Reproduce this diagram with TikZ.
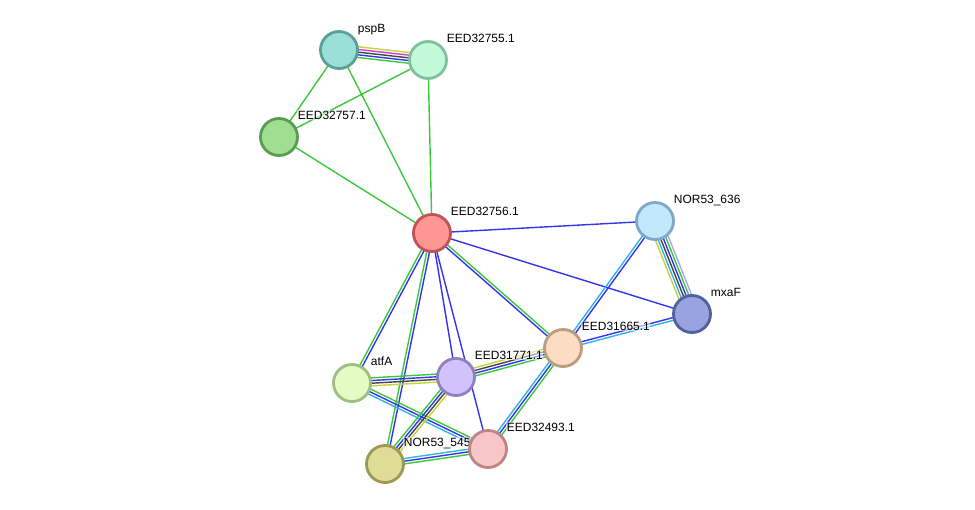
\documentclass[tikz,border=0pt]{standalone}
\usepackage{fontspec}
\setmainfont{Liberation Sans}
\usetikzlibrary{calc,backgrounds}
\definecolor{cNeigh}{HTML}{3CC83C}
\definecolor{cCooc}{HTML}{3535F0}
\definecolor{cCoex}{HTML}{454545}
\definecolor{cExp}{HTML}{D040D0}
\definecolor{cDb}{HTML}{33B4E4}
\definecolor{cText}{HTML}{C4D23C}
\definecolor{cHom}{HTML}{A8A8F8}
\tikzset{
    prot/.style={circle,draw,line width=2pt,minimum size=0.925cm,inner sep=0pt},
    lbl/.style={anchor=base west,inner sep=0.5pt,fill=white,fill opacity=0.55,text opacity=1,
        font=\fontsize{8.5}{10}\selectfont},
    link/.style={line width=1pt},
}
% protein: name, x, y, fill, border, text
\newcommand\Prot[6]{%
    \definecolor{#1-fill}{HTML}{#4}
    \definecolor{#1-line}{HTML}{#5}
    \node[prot,fill=#1-fill,draw=#1-line] (#1) at (#2,#3) {};
    \node[lbl] (#1-l) at ($(#1)+(18,-18)$) {#6};
}
% evidence lines between two proteins, one per colour
\newcommand\Link[3]{%
    \foreach \c [count=\k] in {#3} {\xdef\nlines{\k}}
    \foreach \c [count=\k] in {#3} {
        \pgfmathsetmacro\off{(\k-(\nlines+1)/2)*1.9}
        \draw[link,color=\c] ($(#1)!\off pt!90:(#2)$) -- ($(#2)!\off pt!-90:(#1)$);
    }
}

\begin{document}
\begin{tikzpicture}[x=0.025cm,y=-0.025cm]
    \useasboundingbox (0,0) rectangle (975,509);
    \Prot{pspB}{339}{50}{9ADFD8}{5E9E98}{pspB}
    \Prot{e55}{428}{60}{C2FAD9}{82C0A0}{EED32755.1}
    \Prot{e57}{279}{137}{A0DE92}{5A9C52}{EED32757.1}
    \Prot{e56}{432}{233}{FF9696}{C05454}{EED32756.1}
    \Prot{n636}{655}{221}{C2E8FC}{80A8C6}{NOR53\_636}
    \Prot{mxaF}{692}{314}{98A4E0}{52609E}{mxaF}
    \Prot{e665}{563}{348}{FCDCC2}{BC9C7C}{EED31665.1}
    \Prot{atfA}{352}{383}{E2FCC4}{A0BE80}{atfA}
    \Prot{e771}{456}{377}{D2C2FC}{9080C0}{EED31771.1}
    \Prot{n545}{385}{464}{DEDC96}{9C9A52}{NOR53\_545}
    \Prot{e493}{488}{449}{F8C6C6}{C08484}{EED32493.1}
    \begin{pgfonlayer}{background}
        % operon neighbours
        \Link{pspB}{e55}{cNeigh,cCooc,cCoex,cExp,cText}
        \Link{pspB}{e57}{cNeigh}
        \Link{pspB}{e56}{cNeigh}
        \Link{e55}{e57}{cNeigh}
        \Link{e55}{e56}{cNeigh}
        \Link{e57}{e56}{cNeigh}
        % hub
        \Link{e56}{n636}{cCooc}
        \Link{e56}{mxaF}{cCooc}
        \Link{e56}{e665}{cCooc,cNeigh}
        \Link{e56}{atfA}{cNeigh,cCooc}
        \Link{e56}{n545}{cNeigh,cCooc}
        \Link{e56}{e771}{cCooc}
        \Link{e56}{e493}{cCooc}
        % lower cluster
        \Link{n636}{mxaF}{cText,cDb,cCoex,cCooc,cNeigh,cHom}
        \Link{n636}{e665}{cDb,cCooc}
        \Link{mxaF}{e665}{cCooc,cDb}
        \Link{e665}{e771}{cText,cCoex,cCooc,cNeigh}
        \Link{e665}{e493}{cDb,cCooc,cNeigh}
        \Link{atfA}{e771}{cText,cCoex,cCooc,cNeigh}
        \Link{atfA}{e493}{cDb,cCooc,cNeigh}
        \Link{e771}{n545}{cNeigh,cCooc,cCoex,cText}
        \Link{n545}{e493}{cNeigh,cCooc,cDb}
    \end{pgfonlayer}
\end{tikzpicture}
\end{document}
